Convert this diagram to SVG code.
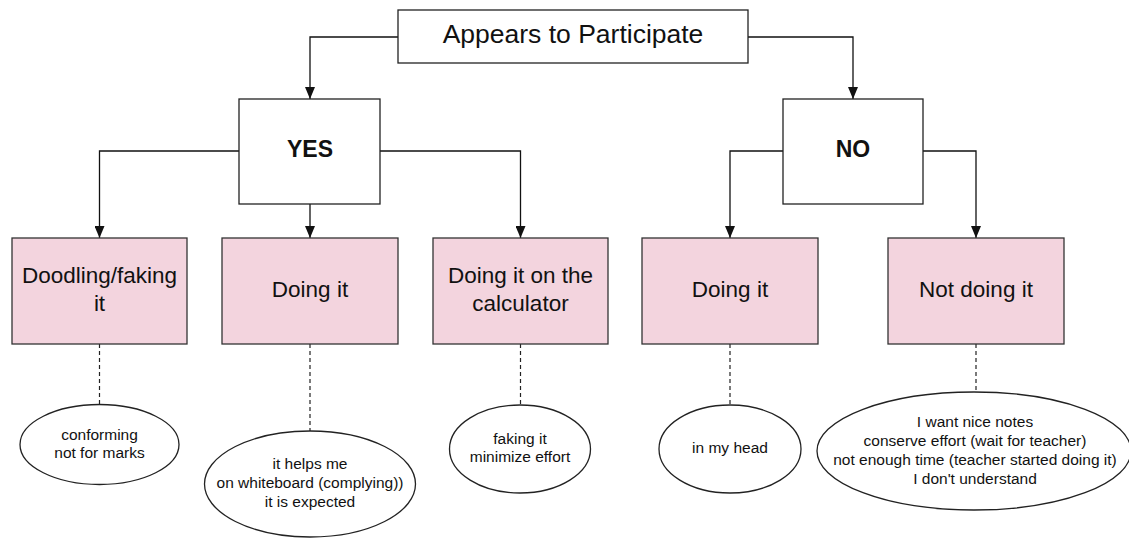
<svg xmlns="http://www.w3.org/2000/svg" width="1129" height="538" viewBox="0 0 1129 538">
  <style>
    .box { fill: #ffffff; stroke: #222222; stroke-width: 1.3; }
    .pink { fill: #f3d4de; stroke: #333333; stroke-width: 1.3; }
    .oval { fill: #ffffff; stroke: #222222; stroke-width: 1.3; }
    .link { fill: none; stroke: #111111; stroke-width: 1.3; }
    .dash { fill: none; stroke: #222222; stroke-width: 1.2; stroke-dasharray: 4 3; }
    text { font-family: "Liberation Sans", Arial, sans-serif; fill: #111111; text-anchor: middle; }
    .title { font-size: 26.5px; }
    .head { font-size: 23px; font-weight: bold; }
    .label { font-size: 22.5px; }
    .note { font-size: 15.5px; }
  </style>
  <defs>
    <marker id="arrow" markerUnits="userSpaceOnUse" markerWidth="12" markerHeight="10" refX="12" refY="5" orient="auto">
      <path d="M0,0 L12,5 L0,10 Z" fill="#111111"/>
    </marker>
  </defs>

  <rect width="1129" height="538" fill="#ffffff"/>

  <!-- connectors -->
  <g id="connectors">
    <path class="link" d="M398,37 H310 V99" marker-end="url(#arrow)"/>
    <path class="link" d="M748,37 H853 V99" marker-end="url(#arrow)"/>
    <path class="link" d="M239,151 H99.5 V238" marker-end="url(#arrow)"/>
    <path class="link" d="M310,204 V238" marker-end="url(#arrow)"/>
    <path class="link" d="M380,151 H520.5 V238" marker-end="url(#arrow)"/>
    <path class="link" d="M783,151 H730 V238" marker-end="url(#arrow)"/>
    <path class="link" d="M923,151 H976 V238" marker-end="url(#arrow)"/>
    <path class="dash" d="M99.5,344 V404"/>
    <path class="dash" d="M310,344 V431"/>
    <path class="dash" d="M520.5,344 V405"/>
    <path class="dash" d="M730,344 V405"/>
    <path class="dash" d="M976,344 V392"/>
  </g>

  <!-- decision boxes -->
  <g id="appears">
    <rect class="box" x="398" y="10" width="350" height="53"/>
    <text class="title" x="573" y="43">Appears to Participate</text>
  </g>
  <g id="yes">
    <rect class="box" x="239" y="99" width="141" height="105"/>
    <text class="head" x="310" y="157">YES</text>
  </g>
  <g id="no">
    <rect class="box" x="783" y="99" width="140" height="105"/>
    <text class="head" x="853" y="157">NO</text>
  </g>

  <!-- behaviour boxes -->
  <g id="doodling">
    <rect class="pink" x="12" y="238" width="175" height="106"/>
    <text class="label" x="99.5" y="283">Doodling/faking</text>
    <text class="label" x="99.5" y="311">it</text>
  </g>
  <g id="doing-yes">
    <rect class="pink" x="222" y="238" width="176" height="106"/>
    <text class="label" x="310" y="297">Doing it</text>
  </g>
  <g id="calculator">
    <rect class="pink" x="433" y="238" width="175" height="106"/>
    <text class="label" x="520.5" y="283">Doing it on the</text>
    <text class="label" x="520.5" y="311">calculator</text>
  </g>
  <g id="doing-no">
    <rect class="pink" x="642" y="238" width="176" height="106"/>
    <text class="label" x="730" y="297">Doing it</text>
  </g>
  <g id="not-doing">
    <rect class="pink" x="888" y="238" width="176" height="106"/>
    <text class="label" x="976" y="297">Not doing it</text>
  </g>

  <!-- reasons -->
  <g id="reason-doodling">
    <ellipse class="oval" cx="99.5" cy="444.5" rx="79.5" ry="40"/>
    <text class="note" x="99.5" y="439.5">conforming</text>
    <text class="note" x="99.5" y="458">not for marks</text>
  </g>
  <g id="reason-doing-yes">
    <ellipse class="oval" cx="310" cy="484" rx="105.5" ry="53"/>
    <text class="note" x="310" y="468.5">it helps me</text>
    <text class="note" x="310" y="487.5">on whiteboard (complying))</text>
    <text class="note" x="310" y="506.5">it is expected</text>
  </g>
  <g id="reason-calculator">
    <ellipse class="oval" cx="520" cy="449" rx="70.5" ry="44"/>
    <text class="note" x="520" y="443.5">faking it</text>
    <text class="note" x="520" y="462">minimize effort</text>
  </g>
  <g id="reason-doing-no">
    <ellipse class="oval" cx="730" cy="449" rx="71" ry="44"/>
    <text class="note" x="730" y="453">in my head</text>
  </g>
  <g id="reason-not-doing">
    <ellipse class="oval" cx="974" cy="451" rx="157" ry="59"/>
    <text class="note" x="975" y="427">I want nice notes</text>
    <text class="note" x="975" y="446">conserve effort (wait for teacher)</text>
    <text class="note" x="975" y="465">not enough time (teacher started doing it)</text>
    <text class="note" x="975" y="483.5">I don't understand</text>
  </g>
</svg>
